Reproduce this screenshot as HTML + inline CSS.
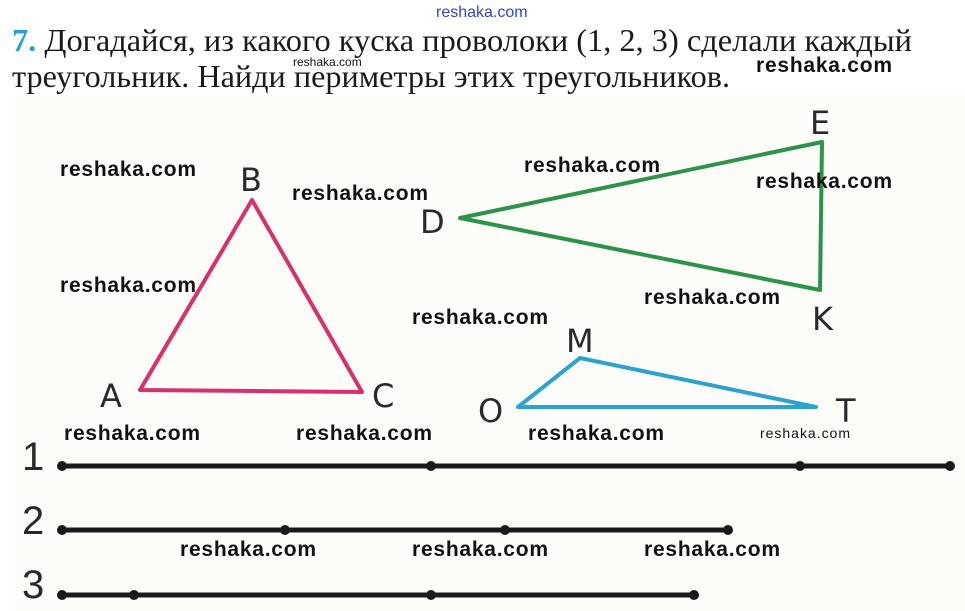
<!DOCTYPE html>
<html><head><meta charset="utf-8"><style>
html,body{margin:0;padding:0;background:#fff;width:965px;height:611px;overflow:hidden}
svg{display:block}
.h{font-family:"Liberation Serif","Noto Serif CJK SC",serif;font-size:32px;fill:#1a1a1a}
.w{font-family:"Liberation Sans",sans-serif;font-weight:bold;font-size:21px;fill:#111}
.l{font-family:"DejaVu Sans","Liberation Sans",sans-serif;font-size:32px;fill:#2a2a2a}
.n{font-family:"Liberation Sans",sans-serif;font-size:40px;fill:#2a2a2a}
</style></head><body>
<svg width="965" height="611" viewBox="0 0 965 611" xmlns="http://www.w3.org/2000/svg">
<rect x="0" y="0" width="965" height="611" fill="#fff"/>
<rect x="15" y="95" width="950" height="516" fill="#fcfcf8"/>
<text x="436" y="17" font-family="Liberation Sans,sans-serif" font-size="16" fill="#3344cc">reshaka.com</text>
<text x="12" y="51" class="h" textLength="900" lengthAdjust="spacingAndGlyphs"><tspan fill="#2a9fd6" font-weight="bold">7.</tspan> Догадайся, из какого куска проволоки (1, 2, 3) сделали каждый</text>
<text x="12" y="87" class="h" textLength="718" lengthAdjust="spacingAndGlyphs">треугольник. Найди периметры этих треугольников.</text>
<text x="293" y="66" font-family="Liberation Sans,sans-serif" font-size="12" fill="#111">reshaka.com</text>
<text x="756" y="72" class="w" textLength="136">reshaka.com</text>

<polygon points="252,200 140,390 362,392" fill="none" stroke="#d8306c" stroke-width="4" stroke-linejoin="round"/>
<polygon points="460,218 822,142 820,290" fill="none" stroke="#2b9448" stroke-width="4" stroke-linejoin="round"/>
<polygon points="518,407 580,358 816,407" fill="none" stroke="#2aa3d2" stroke-width="4" stroke-linejoin="round"/>

<text x="240" y="191" class="l">B</text>
<text x="100" y="407" class="l">A</text>
<text x="372" y="407" class="l">C</text>
<text x="810" y="134" class="l">E</text>
<text x="420" y="233" class="l">D</text>
<text x="812" y="330" class="l">K</text>
<text x="566" y="352" class="l">M</text>
<text x="478" y="422" class="l">O</text>
<text x="836" y="422" class="l">T</text>

<text x="60" y="176" class="w" textLength="136">reshaka.com</text>
<text x="292" y="200" class="w" textLength="136">reshaka.com</text>
<text x="524" y="172" class="w" textLength="136">reshaka.com</text>
<text x="756" y="188" class="w" textLength="136">reshaka.com</text>
<text x="60" y="292" class="w" textLength="136">reshaka.com</text>
<text x="644" y="304" class="w" textLength="136">reshaka.com</text>
<text x="412" y="324" class="w" textLength="136">reshaka.com</text>
<text x="64" y="440" class="w" textLength="136">reshaka.com</text>
<text x="296" y="440" class="w" textLength="136">reshaka.com</text>
<text x="528" y="440" class="w" textLength="136">reshaka.com</text>
<text x="760" y="438" font-family="Liberation Sans,sans-serif" font-size="14" fill="#111" textLength="90">reshaka.com</text>
<text x="180" y="556" class="w" textLength="136">reshaka.com</text>
<text x="412" y="556" class="w" textLength="136">reshaka.com</text>
<text x="644" y="556" class="w" textLength="136">reshaka.com</text>

<text x="22" y="470" class="n">1</text>
<text x="22" y="534" class="n">2</text>
<text x="22" y="598" class="n">3</text>
<g stroke="#1a1a1a" stroke-width="5" stroke-linecap="round">
<line x1="62" y1="466" x2="950" y2="466"/>
<line x1="62" y1="530" x2="728" y2="530"/>
<line x1="62" y1="595" x2="694" y2="595"/>
</g>
<g fill="#1a1a1a">
<circle cx="62" cy="466" r="5"/><circle cx="431" cy="466" r="5"/><circle cx="800" cy="466" r="5"/><circle cx="950" cy="466" r="5"/>
<circle cx="62" cy="530" r="5"/><circle cx="285" cy="530" r="5"/><circle cx="505" cy="530" r="5"/><circle cx="728" cy="530" r="5"/>
<circle cx="62" cy="595" r="5"/><circle cx="134" cy="595" r="5"/><circle cx="431" cy="595" r="5"/><circle cx="694" cy="595" r="5"/>
</g>
</svg>
</body></html>
